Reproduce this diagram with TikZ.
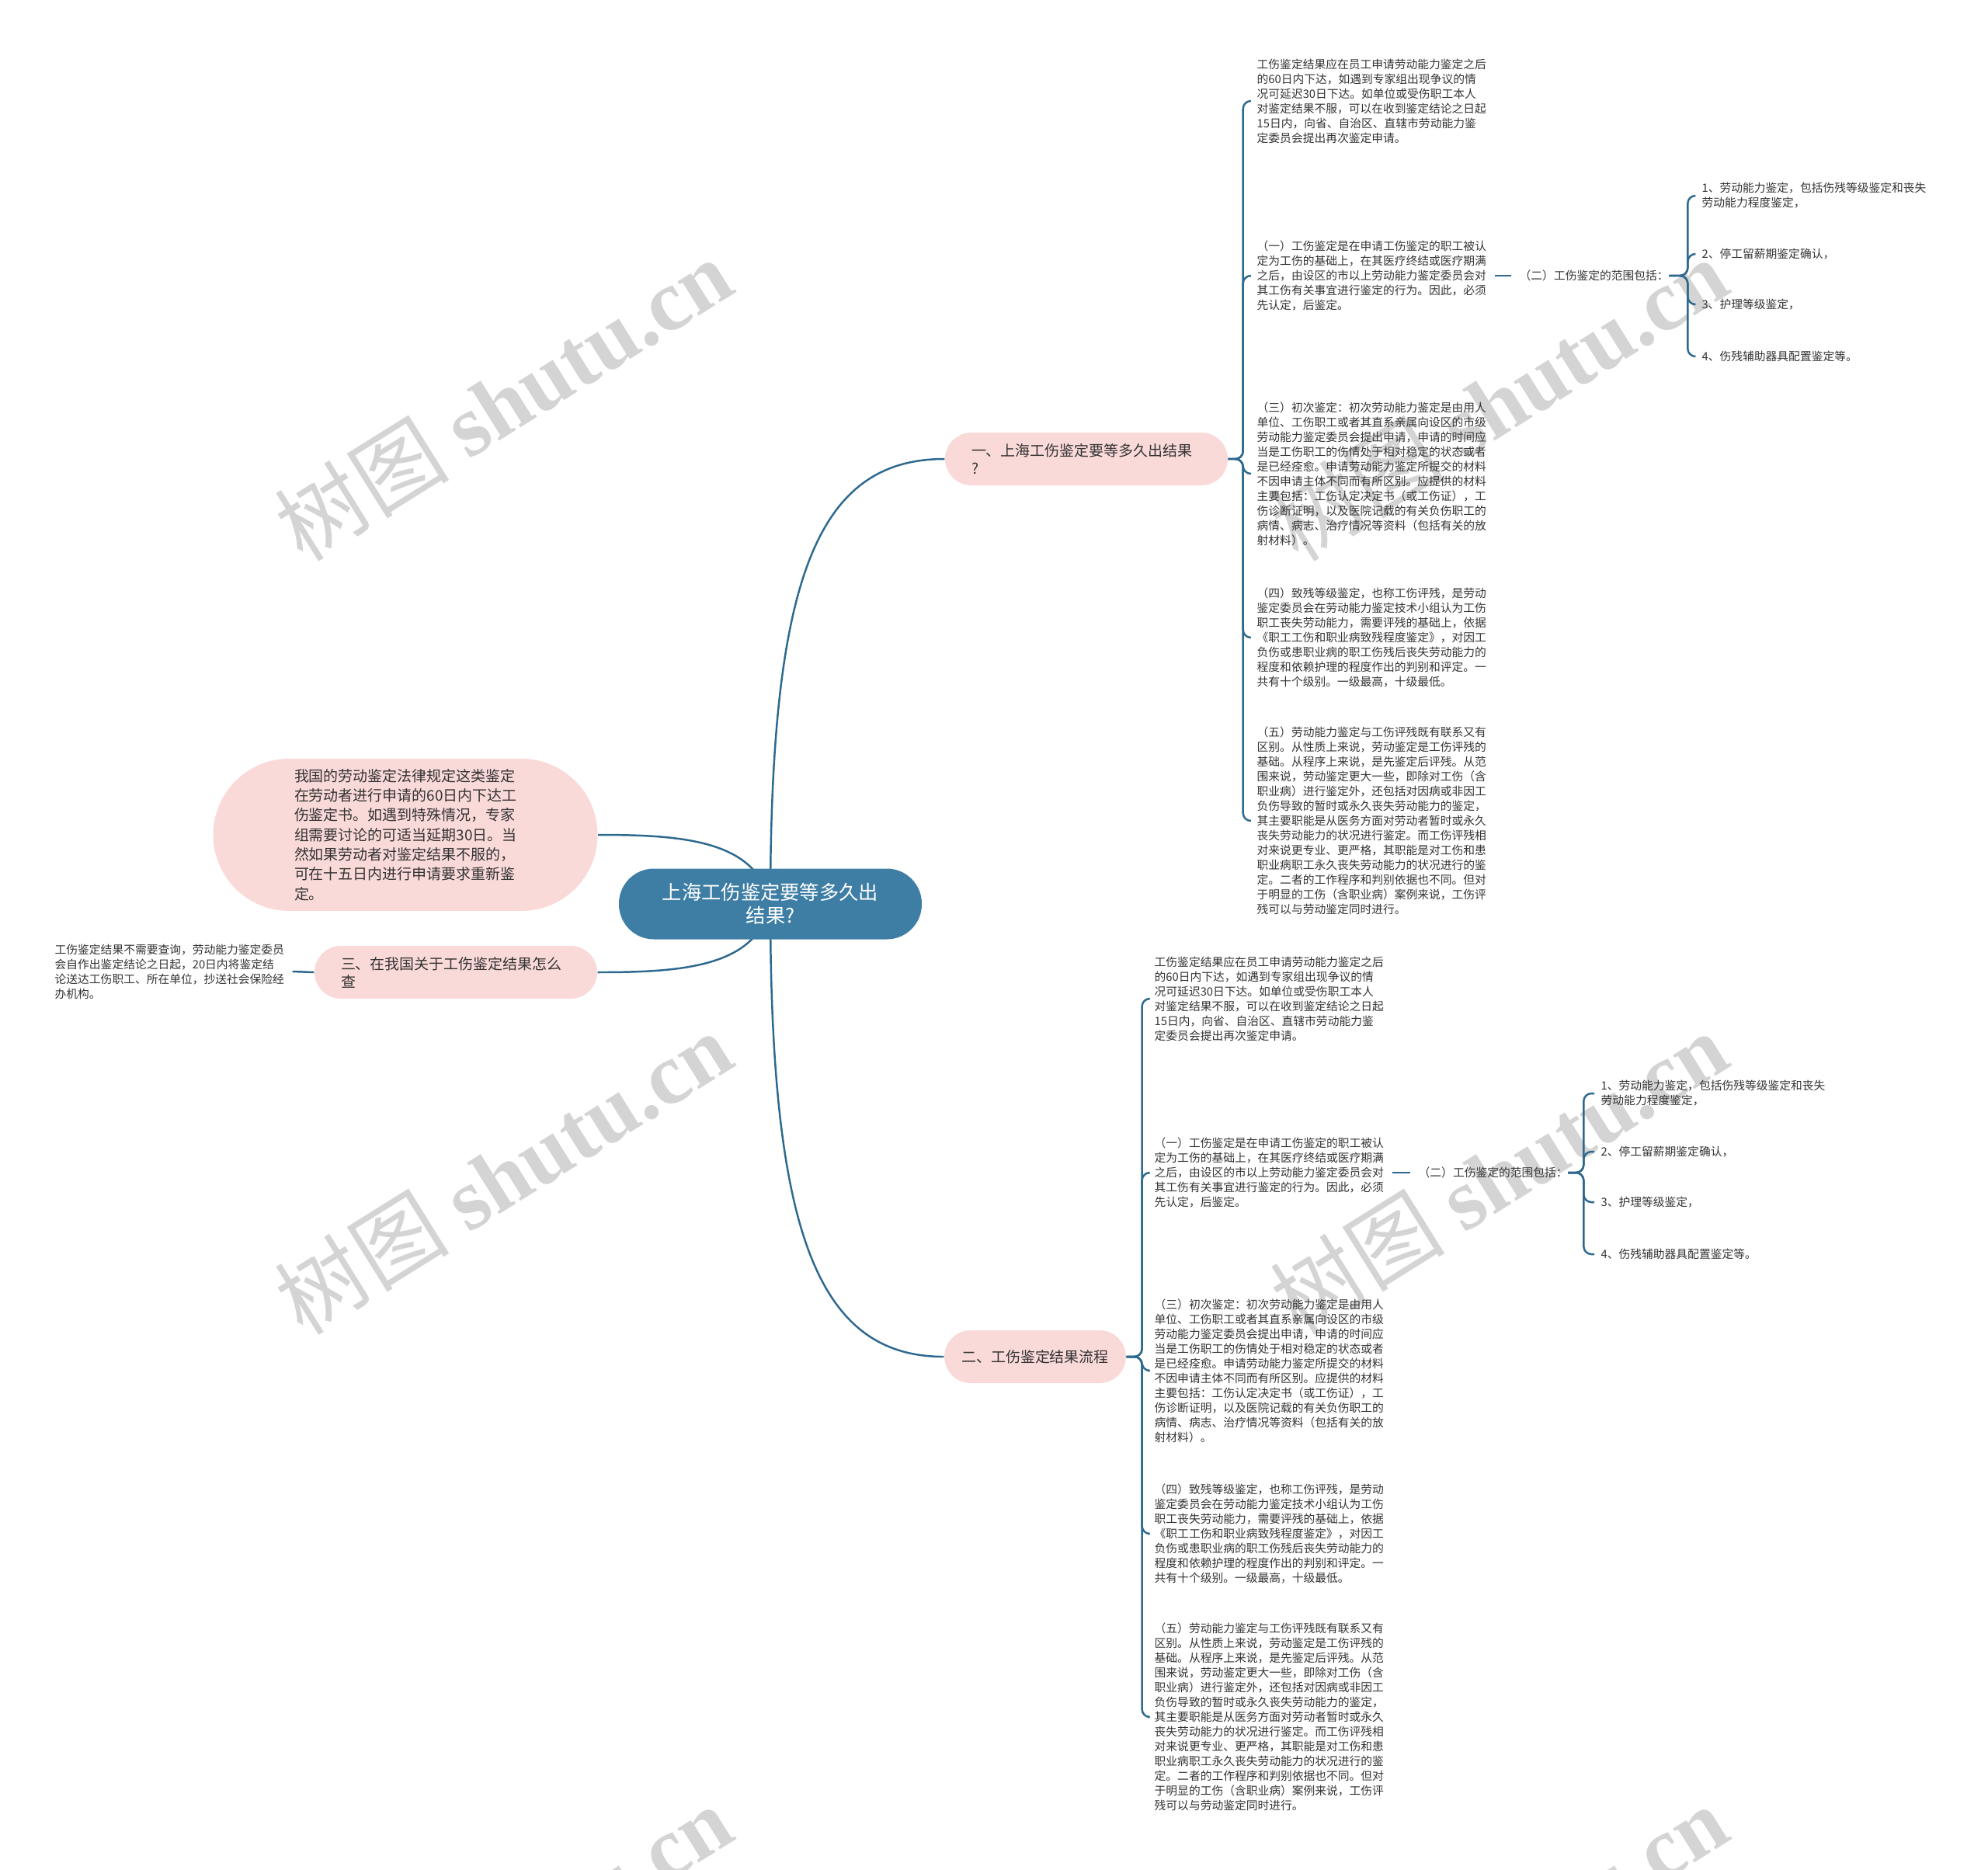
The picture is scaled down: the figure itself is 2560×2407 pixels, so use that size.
\documentclass[tikz,border=0pt]{standalone}
\usepackage{fontspec}
\setmainfont{Noto Sans CJK SC}
\newfontfamily\wmfont{Liberation Serif}
\usepackage{tikz}
\usetikzlibrary{positioning, backgrounds}

\definecolor{linkblue}{RGB}{45,105,142}
\definecolor{rootblue}{RGB}{62,126,165}
\definecolor{pinkfill}{RGB}{250,217,217}
\definecolor{txtgray}{RGB}{51,51,51}

\newcommand{\txtresult}{工伤鉴定结果应在员工申请劳动能力鉴定之后\\的60日内下达，如遇到专家组出现争议的情\\况可延迟30日下达。如单位或受伤职工本人\\对鉴定结果不服，可以在收到鉴定结论之日起\\15日内，向省、自治区、直辖市劳动能力鉴\\定委员会提出再次鉴定申请。}
\newcommand{\txtone}{（一）工伤鉴定是在申请工伤鉴定的职工被认\\定为工伤的基础上，在其医疗终结或医疗期满\\之后，由设区的市以上劳动能力鉴定委员会对\\其工伤有关事宜进行鉴定的行为。因此，必须\\先认定，后鉴定。}
\newcommand{\txtthree}{（三）初次鉴定：初次劳动能力鉴定是由用人\\单位、工伤职工或者其直系亲属向设区的市级\\劳动能力鉴定委员会提出申请，申请的时间应\\当是工伤职工的伤情处于相对稳定的状态或者\\是已经痊愈。申请劳动能力鉴定所提交的材料\\不因申请主体不同而有所区别。应提供的材料\\主要包括：工伤认定决定书（或工伤证），工\\伤诊断证明，以及医院记载的有关负伤职工的\\病情、病志、治疗情况等资料（包括有关的放\\射材料）。}
\newcommand{\txtfour}{（四）致残等级鉴定，也称工伤评残，是劳动\\鉴定委员会在劳动能力鉴定技术小组认为工伤\\职工丧失劳动能力，需要评残的基础上，依据\\《职工工伤和职业病致残程度鉴定》，对因工\\负伤或患职业病的职工伤残后丧失劳动能力的\\程度和依赖护理的程度作出的判别和评定。一\\共有十个级别。一级最高，十级最低。}
\newcommand{\txtfive}{（五）劳动能力鉴定与工伤评残既有联系又有\\区别。从性质上来说，劳动鉴定是工伤评残的\\基础。从程序上来说，是先鉴定后评残。从范\\围来说，劳动鉴定更大一些，即除对工伤（含\\职业病）进行鉴定外，还包括对因病或非因工\\负伤导致的暂时或永久丧失劳动能力的鉴定，\\其主要职能是从医务方面对劳动者暂时或永久\\丧失劳动能力的状况进行鉴定。而工伤评残相\\对来说更专业、更严格，其职能是对工伤和患\\职业病职工永久丧失劳动能力的状况进行的鉴\\定。二者的工作程序和判别依据也不同。但对\\于明显的工伤（含职业病）案例来说，工伤评\\残可以与劳动鉴定同时进行。}

\begin{document}
\begin{tikzpicture}[x=0.1mm, y=-0.1mm,
    rootnode/.style={fill=rootblue, text=white, rounded corners=4.5mm, minimum width=39mm, minimum height=9.1mm, inner sep=0pt, align=center, font=\fontsize{7.2pt}{8.5pt}\selectfont},
    topicnode/.style={fill=pinkfill, text=txtgray, rounded corners=3.4mm, minimum height=6.8mm, inner xsep=3.4mm, inner ysep=0pt, align=left, font=\fontsize{5.4pt}{6.6pt}\selectfont},
    leafnode/.style={text=txtgray, inner sep=0pt, anchor=west, align=left, font=\fontsize{4.2pt}{5.4pt}\selectfont},
    linkline/.style={draw=linkblue, line width=0.7pt},
    brace/.style={linkline, rounded corners=1mm},
    wmtext/.style={text=black!17, rotate=32, font=\fontsize{32pt}{32pt}\selectfont}]
    \useasboundingbox (0,0) rectangle (2560,2407);
    \clip (0,0) rectangle (2560,2407);

    \node[wmtext] (w1) at (648,514) {树图 {\wmfont\bfseries shutu.cn}};
    \node[wmtext] (w2) at (1930,514) {树图 {\wmfont\bfseries shutu.cn}};
    \node[wmtext] (w3) at (648,1510) {树图 {\wmfont\bfseries shutu.cn}};
    \node[wmtext] (w4) at (1930,1510) {树图 {\wmfont\bfseries shutu.cn}};
    \node[wmtext] (w5) at (648,2506) {树图 {\wmfont\bfseries shutu.cn}};
    \node[wmtext] (w6) at (1930,2506) {树图 {\wmfont\bfseries shutu.cn}};

    \node[rootnode] (r) at (992,1164) {上海工伤鉴定要等多久出\\结果?};
    \node[topicnode, text width=29.6mm] (t1) at (1399,591) {一、上海工伤鉴定要等多久出结果\\?};
    \node[topicnode, inner xsep=2.2mm] (t2) at (1333,1747) {二、工伤鉴定结果流程};
    \node[topicnode, text width=29.6mm] (t3) at (587,1252) {三、在我国关于工伤鉴定结果怎么\\查};
    \node[topicnode, text width=28.6mm, inner xsep=10.45mm, minimum height=19.6mm, rounded corners=9.8mm, font=\fontsize{5.4pt}{7.2pt}\selectfont] (t0) at (522,1075) {我国的劳动鉴定法律规定这类鉴定\\在劳动者进行申请的60日内下达工\\伤鉴定书。如遇到特殊情况，专家\\组需要讨论的可适当延期30日。当\\然如果劳动者对鉴定结果不服的，\\可在十五日内进行申请要求重新鉴\\定。};

    \node[leafnode] (a1) at (1618,130) {\txtresult};
    \node[leafnode] (b1) at (1618,355) {\txtone};
    \node[leafnode] (c1) at (1618,610) {\txtthree};
    \node[leafnode] (d1) at (1618,821) {\txtfour};
    \node[leafnode] (e1) at (1618,1057) {\txtfive};
    \node[leafnode] (r1) at (1956,355) {（二）工伤鉴定的范围包括：};
    \node[leafnode] (s1) at (2191,252) {1、劳动能力鉴定，包括伤残等级鉴定和丧失\\劳动能力程度鉴定，};
    \node[leafnode] (s2) at (2191,327) {2、停工留薪期鉴定确认，};
    \node[leafnode] (s3) at (2191,392) {3、护理等级鉴定，};
    \node[leafnode] (s4) at (2191,459) {4、伤残辅助器具配置鉴定等。};

    \node[leafnode] (a2) at (1486,1286) {\txtresult};
    \node[leafnode] (b2) at (1486,1510) {\txtone};
    \node[leafnode] (c2) at (1486,1765) {\txtthree};
    \node[leafnode] (d2) at (1486,1975) {\txtfour};
    \node[leafnode] (e2) at (1486,2211) {\txtfive};
    \node[leafnode] (r2) at (1826,1510) {（二）工伤鉴定的范围包括：};
    \node[leafnode] (u1) at (2061,1408) {1、劳动能力鉴定，包括伤残等级鉴定和丧失\\劳动能力程度鉴定，};
    \node[leafnode] (u2) at (2061,1483) {2、停工留薪期鉴定确认，};
    \node[leafnode] (u3) at (2061,1548) {3、护理等级鉴定，};
    \node[leafnode] (u4) at (2061,1615) {4、伤残辅助器具配置鉴定等。};

    \node[leafnode] (l3) at (70,1251) {工伤鉴定结果不需要查询，劳动能力鉴定委员\\会自作出鉴定结论之日起，20日内将鉴定结\\论送达工伤职工、所在单位，抄送社会保险经\\办机构。};

    \begin{scope}[on background layer]
        \draw[linkline] (r.center) .. controls (992,750) and (1050,591) .. (t1.west);
        \draw[linkline] (r.center) .. controls (992,1580) and (1050,1747) .. (t2.west);
        \draw[linkline] (r.center) .. controls (975,1082) and (880,1075) .. (t0.east);
        \draw[linkline] (r.center) .. controls (975,1245) and (880,1252) .. (t3.east);
    \end{scope}

    \foreach \c in {a1,b1,c1,d1,e1}
        \draw[brace] (t1.east) -- ++(19,0) |- ([xshift=-0.8mm]\c.west);
    \foreach \c in {a2,b2,c2,d2,e2}
        \draw[brace] (t2.east) -- ++(20,0) |- ([xshift=-0.8mm]\c.west);
    \foreach \c in {s1,s2,s3,s4}
        \draw[brace] (r1.east) -- ++(24,0) |- ([xshift=-0.8mm]\c.west);
    \foreach \c in {u1,u2,u3,u4}
        \draw[brace] (r2.east) -- ++(20,0) |- ([xshift=-0.8mm]\c.west);
    \draw[linkline] ([xshift=1mm]b1.east) -- ([xshift=-1mm]r1.west);
    \draw[linkline] ([xshift=1mm]b2.east) -- ([xshift=-1mm]r2.west);
    \draw[linkline] (t3.west) -- ([xshift=1mm]l3.east);
\end{tikzpicture}
\end{document}
